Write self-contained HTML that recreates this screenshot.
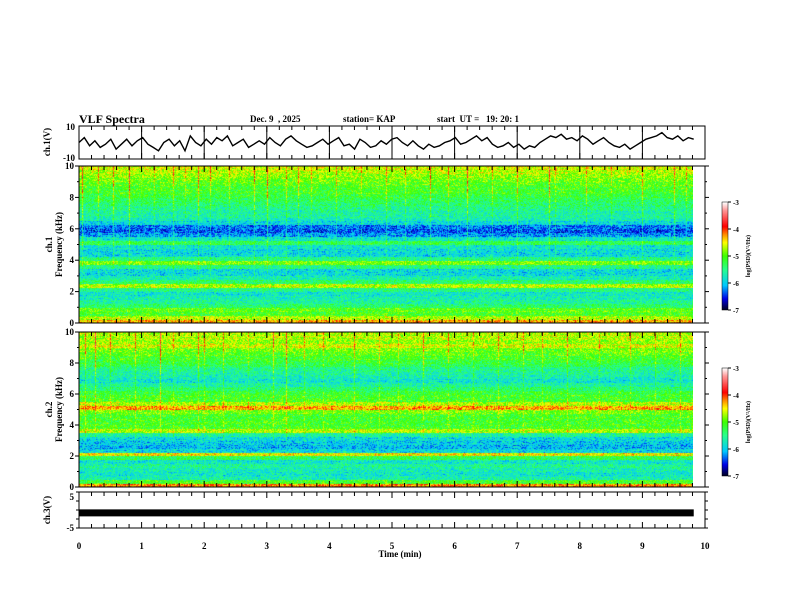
<!DOCTYPE html>
<html><head><meta charset="utf-8"><style>
html,body{margin:0;padding:0;background:#fff;}
#wrap{position:relative;width:792px;height:612px;overflow:hidden;font-family:"Liberation Serif",serif;font-weight:bold;color:#000;}
.t{position:absolute;font-size:9px;white-space:nowrap;line-height:1;}
canvas{position:absolute;}
svg{position:absolute;left:0;top:0;}
</style></head><body>
<div id="wrap">
<div class="t" style="left:79px;top:113px;font-size:12px;">VLF Spectra</div>
<div class="t" style="left:250px;top:115px;">Dec. 9 &nbsp;, 2025</div>
<div class="t" style="left:343px;top:115px;">station= KAP</div>
<div class="t" style="left:437px;top:115px;">start &nbsp;UT = &nbsp;&nbsp;19: 20: 1</div>
<canvas id="s1" width="614" height="157" style="left:79px;top:166px"></canvas>
<canvas id="s2" width="614" height="155" style="left:79px;top:332px"></canvas>
<canvas id="cb1" width="6" height="108" style="left:722px;top:202px"></canvas>
<canvas id="cb2" width="6" height="108" style="left:722px;top:368px"></canvas>
<svg id="ov" width="792" height="612"></svg>
</div>
<script>
const ch1Levels=[-4.3,-4.7,-5.1,-5.0,-5.4,-5.6,-5.7,-5.8,-5.5,-4.7,-5.4,-5.7,-5.9,-5.9,-5.5,-4.9,-5.5,-5.9,-5.9,-5.8,-5.3,-5.8,-6.2,-6.4,-6.3,-5.9,-5.7,-5.6,-5.6,-5.5,-5.4,-5.3,-5.2,-5.1,-5.1,-5.0,-4.9,-4.8,-4.7,-4.6];
const ch2Levels=[-4.2,-5.1,-5.7,-5.8,-5.7,-5.6,-5.8,-5.3,-4.5,-5.9,-6.1,-6.0,-5.9,-5.6,-4.7,-5.1,-5.1,-5.1,-5.1,-4.9,-4.3,-4.7,-5.1,-5.1,-5.2,-5.4,-5.6,-5.8,-5.7,-5.6,-5.5,-5.3,-5.2,-5.1,-5.0,-4.9,-4.6,-4.8,-4.7,-4.7];
const ch1Streaks=[0.05,0.3,0.55,0.8,1.2,1.5,1.7,1.9,2.1,2.4,2.8,3.0,3.3,3.5,3.7,4.1,4.5,4.9,5.2,5.6,5.9,6.2,6.6,7.0,7.5,7.6,8.1,8.5,9.0,9.5,9.7];
const ch1StreakStrength=[1,0.6,0.8,1,0.5,0.7,0.4,0.9,0.6,0.5,0.8,1,0.6,0.7,0.5,0.6,0.4,0.7,0.5,0.8,0.6,1,0.5,0.7,0.9,0.5,0.6,0.4,0.7,0.8,0.6];
const ch2Streaks=[0.1,0.25,0.5,0.9,1.3,1.5,1.9,2.0,2.3,2.7,3.1,3.3,3.6,3.9,4.4,4.8,5.1,5.5,5.9,6.3,6.7,7.1,7.4,7.8,8.3,8.8,9.2,9.6];
const ch2StreakStrength=[0.8,1,0.6,0.7,1,0.5,0.8,0.6,0.7,0.5,0.9,1,0.6,0.5,0.7,0.6,0.5,0.8,0.6,0.5,0.7,0.6,0.5,0.7,0.5,0.6,0.5,0.6];
const ch1Wave=[0,3,-2,1,-3,-1,2,-4,-1,2,-2,1,3,-1,-3,-5,0,2,-2,1,-5,4,0,-2,2,-1,3,1,4,-2,0,2,-3,-1,1,-1,3,0,-2,2,4,1,-1,-3,-2,0,2,-1,1,3,-2,-1,-4,2,0,-3,-2,1,-1,2,3,0,-2,1,-2,-4,-1,-3,-2,0,1,3,-1,0,2,4,1,3,-1,-3,-2,0,-3,-1,-4,-2,-3,0,2,4,3,5,2,3,1,4,2,-1,1,3,0,-2,-3,-1,-4,-2,0,2,3,4,6,3,2,4,1,3,2];
const ch3Value=-0.8;
const timeTicks=[0,1,2,3,4,5,6,7,8,9,10];
const freqTicks=[0,2,4,6,8,10];
const dataEnd=9.82;

const X0=79,X1=705;
const xs=t=>X0+(X1-X0)*t/10;
function cmap(v){
  const stops=[[-7,[0,0,40]],[-6.6,[0,0,230]],[-6.1,[0,200,255]],[-5.5,[40,255,140]],[-5.0,[60,255,0]],[-4.5,[255,255,0]],[-4.2,[255,140,0]],[-3.9,[255,0,0]],[-3.3,[255,150,150]],[-3,[255,255,255]]];
  if(v<=stops[0][0])return stops[0][1];
  for(let i=1;i<stops.length;i++){if(v<=stops[i][0]){const a=stops[i-1],b=stops[i],f=(v-a[0])/(b[0]-a[0]);return a[1].map((c,k)=>Math.round(c+(b[1][k]-c)*f));}}
  return stops[stops.length-1][1];
}
function hash(i,j){let h=(i*374761393+j*668265263)|0;h=(h^(h>>>13))*1274126177|0;return ((h^(h>>>16))>>>0)/4294967296-0.5;}
function drawSpec(id,levels,streaks,strength){
  const c=document.getElementById(id),ctx=c.getContext('2d'),W=c.width,H=c.height;
  const img=ctx.createImageData(W,H);
  const colW=Math.round((xs(dataEnd)-X0));
  const sCols=streaks.map(t=>Math.round(xs(t)-X0));
  for(let x=0;x<W;x++){
    let st=0;sCols.forEach((s,i)=>{if(x===s)st=Math.max(st,strength[i]);});
    for(let y=0;y<H;y++){
      const p=(y*W+x)*4;
      if(x>=colW){img.data[p]=img.data[p+1]=img.data[p+2]=255;img.data[p+3]=255;continue;}
      const f=10*(1-y/H);
      const b=Math.min(levels.length-1,Math.floor(f/10*levels.length));
      let v=levels[b]+0.75*hash(x,y)+0.25*hash(x>>3,y*7+1);
      if(f>3)v+=st*1.0*(f/10);
      const col=cmap(v);
      img.data[p]=col[0];img.data[p+1]=col[1];img.data[p+2]=col[2];img.data[p+3]=255;
    }
  }
  ctx.putImageData(img,0,0);
}
drawSpec('s1',ch1Levels,ch1Streaks,ch1StreakStrength);
drawSpec('s2',ch2Levels,ch2Streaks,ch2StreakStrength);
['cb1','cb2'].forEach(id=>{const c=document.getElementById(id),ctx=c.getContext('2d');for(let y=0;y<c.height;y++){const v=-3-4*y/(c.height-1);const col=cmap(v);ctx.fillStyle=`rgb(${col})`;ctx.fillRect(0,y,6,1);}});

const NS='http://www.w3.org/2000/svg',ov=document.getElementById('ov');
function el(tag,attrs,parent){const e=document.createElementNS(NS,tag);for(const k in attrs)e.setAttribute(k,attrs[k]);(parent||ov).appendChild(e);return e;}
function txt(x,y,s,anchor,size,rot){const e=el('text',{x:x,y:y,'text-anchor':anchor||'middle','font-family':'Liberation Serif,serif','font-weight':'bold','font-size':size||9});if(rot)e.setAttribute('transform',`rotate(-90 ${x} ${y})`);e.textContent=s;return e;}
const panels=[{n:'ch1-wave-panel',t:126,b:159},{n:'ch1-spec-panel',t:166,b:323},{n:'ch2-spec-panel',t:332,b:487},{n:'ch3-wave-panel',t:492,b:528}];
panels.forEach(p=>{
  const r=el('rect',{x:X0,y:p.t,width:X1-X0,height:p.b-p.t,fill:'none',stroke:'#000','stroke-width':1});
  
  for(let i=0;i<=50;i++){const x=X0+(X1-X0)*i/50,L=i%5==0?6:4;el('line',{x1:x,x2:x,y1:p.t,y2:p.t+L,stroke:'#000'});el('line',{x1:x,x2:x,y1:p.b,y2:p.b-L,stroke:'#000'});}
});
timeTicks.forEach(t=>{const l=el('line',{x1:xs(t),x2:xs(t),y1:126,y2:159,stroke:'#000'});});
const wy=v=>159-(v+10)/20*33;
let pts=ch1Wave.map((v,i)=>`${xs(dataEnd*i/(ch1Wave.length-1)).toFixed(1)},${wy(v).toFixed(1)}`).join(' ');
const wl=el('polyline',{points:pts,fill:'none',stroke:'#000','stroke-width':1.4});

txt(75,130,'10','end');txt(75,161,'-10','end');txt(50,142,'ch.1(V)','middle',9,true);
function fAxis(t,b,name){
  freqTicks.forEach(f=>{const y=b-(b-t)*f/10;el('line',{x1:X0-4,x2:X0,y1:y,y2:y,stroke:'#000'});el('line',{x1:X1,x2:X1+4,y1:y,y2:y,stroke:'#000'});txt(74,y+3,String(f),'end');});
  for(let f=1;f<10;f+=2){const y=b-(b-t)*f/10;el('line',{x1:X0-2,x2:X0,y1:y,y2:y,stroke:'#000'});el('line',{x1:X1,x2:X1+2,y1:y,y2:y,stroke:'#000'});}
  const m=(t+b)/2;txt(52,m,name,'middle',9,true);txt(62,m,'Frequency (kHz)','middle',9,true);
}
fAxis(166,323,'ch.1');fAxis(332,487,'ch.2');
const y3=v=>528-(v+5)/10*36;
const bar=el('rect',{x:X0,y:y3(ch3Value)-3.5,width:xs(dataEnd)-X0,height:7,fill:'#000'});

txt(74,500,'5','end');txt(74,531,'-5','end');txt(50,510,'ch.3(V)','middle',9,true);
[-5,-2.5,0,2.5,5].forEach(v=>{el('line',{x1:X0-3,x2:X0,y1:y3(v),y2:y3(v),stroke:'#000'});el('line',{x1:X1,x2:X1+3,y1:y3(v),y2:y3(v),stroke:'#000'});});
timeTicks.forEach(t=>{const e=txt(xs(t),549,String(t));});
const xt=txt(400,557,'Time  (min)');
[[202,'cb1'],[368,'cb2']].forEach(([top])=>{
  el('rect',{x:722,y:top,width:6,height:108,fill:'none',stroke:'#000','stroke-width':0.5});
  [-3,-4,-5,-6,-7].forEach((v,i)=>{const y=top+i*27;el('line',{x1:728,x2:731,y1:y,y2:y,stroke:'#000'});txt(733,y+3,String(v),'start',7);});
  txt(750,top+54,'log(PSD)(V²/Hz)','middle',6,true);
});
</script>
</body></html>
